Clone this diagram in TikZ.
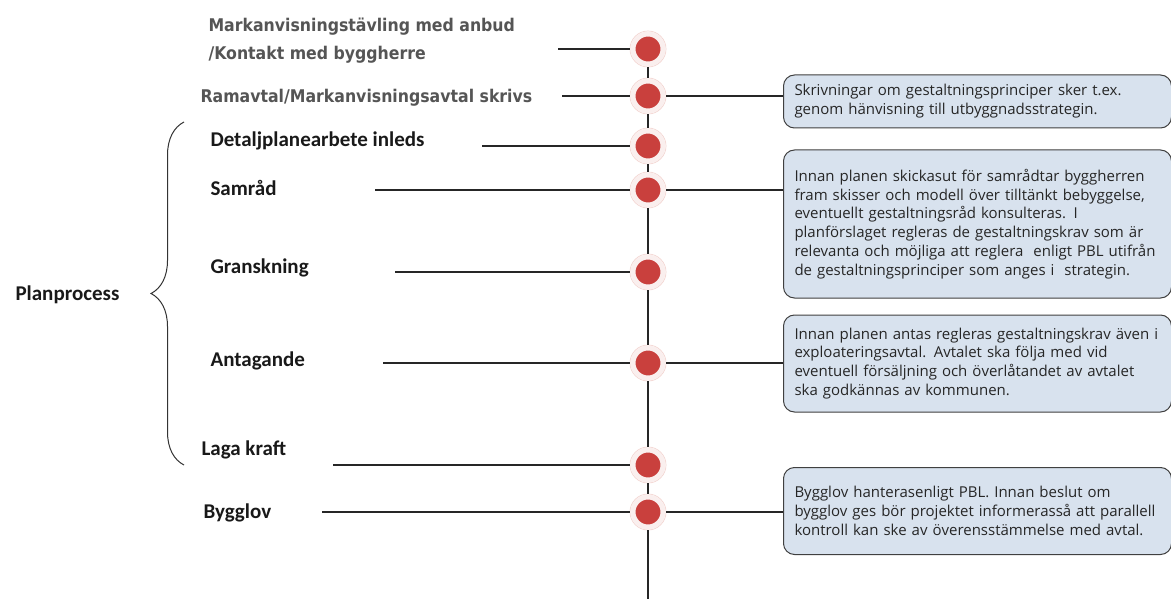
\documentclass[tikz,border=0pt]{standalone}
\usepackage{fontspec}
\setmainfont{Carlito}
\newfontfamily\condfont{DejaVu Sans Condensed}
\newfontfamily\notefont{Open Sans}
\usetikzlibrary{decorations.pathreplacing,shadows}

\begin{document}
\begin{tikzpicture}[x=1pt,y=-1pt]
\definecolor{tlRed}{HTML}{C9403D}
\definecolor{tlHalo}{HTML}{F2D2CE}
\definecolor{tlNote}{HTML}{D8E2EE}
\definecolor{tlNoteLine}{HTML}{404040}
\definecolor{tlGrey}{HTML}{555555}
\def\xaxis{648}
\def\xnote{783}
\tikzset{
	milestone/.style={circle,minimum size=30pt,inner sep=0pt,fill=tlRed,draw=tlHalo!35,line width=5pt,
		drop shadow={shadow xshift=1.5pt,shadow yshift=-1.5pt,fill=black!22}},
	halo/.style={circle,minimum size=36pt,inner sep=0pt,draw=tlHalo,line width=0.7pt},
	stage/.style={anchor=base west,font=\fontsize{21}{24}\selectfont\bfseries,text=black!90},
	prestage/.style={anchor=base west,font=\condfont\fontsize{17.5}{27}\selectfont\bfseries,text=tlGrey},
	note/.style={anchor=west,draw=tlNoteLine,line width=1pt,fill=tlNote,rounded corners=11pt,
		minimum width=388pt,text width=366pt,align=left,inner xsep=11pt,
		font=\notefont\fontsize{15}{18.8}\selectfont,text=black!85},
	link/.style={line width=1.1pt,black!85}
}
\useasboundingbox (0,0) rectangle (1171,599);

\foreach \id/\yy/\xs in {1/49/558,2/96/562,3/146/482,4/190/375,5/272/395,6/363/383,7/465/333,8/512/322} {
	\coordinate (s\id) at (\xs,\yy);
	\node[halo] (h\id) at (\xaxis,\yy) {};
	\node[milestone] (m\id) at (\xaxis,\yy) {};
	\draw[link] (s\id) -- (h\id.west);
}
\foreach \a/\b in {1/2,2/3,3/4,4/5,5/6,6/7,7/8}
	\draw[link] (h\a.south) -- (h\b.north);
\coordinate (tlEnd) at (\xaxis,599);
\draw[link] (h8.south) -- (tlEnd);

\node[prestage] (pMark) at (205,32) {Markanvisningstävling med anbud};
\node[prestage] (pKont) at (205,60) {/Kontakt med byggherre};
\node[prestage] (pRam) at (197,103) {Ramavtal/Markanvisningsavtal skrivs};
\node[stage] (sDet) at (207,147) {Detaljplanearbete inleds};
\node[stage] (sSam) at (207,196) {Samråd};
\node[stage] (sGra) at (207,273) {Granskning};
\node[stage] (sAnt) at (207,366) {Antagande};
\node[stage] (sLag) at (198,455) {Laga kraft};
\node[stage] (sByg) at (200,518) {Bygglov};
\node[stage] (sPlan) at (12,300) {Planprocess};

\draw[line width=1pt,black!80,decorate,decoration={brace,amplitude=33pt}]
	(184,465) -- (184,122);

\node[note,minimum height=53pt] (n1) at (\xnote,101.5) {Skrivningar om gestaltningsprinciper sker t.ex.\\genom hänvisning till utbyggnadsstrategin.};
\node[note,minimum height=148pt] (n2) at (\xnote,224) {Innan planen skickasut för samrådtar byggherren\\fram skisser och modell över tilltänkt bebyggelse,\\eventuellt gestaltningsråd konsulteras. I\\planförslaget regleras de gestaltningskrav som är\\relevanta och möjliga att reglera\ \ enligt PBL utifrån\\de gestaltningsprinciper som anges i\ \ strategin.};
\node[note,minimum height=97pt] (n3) at (\xnote,363.5) {Innan planen antas regleras gestaltningskrav även~i\\exploateringsavtal. Avtalet ska följa med vid\\eventuell försäljning och överlåtandet av avtalet\\ska godkännas av kommunen.};
\node[note,minimum height=87pt] (n4) at (\xnote,511) {Bygglov hanterasenligt PBL. Innan beslut om\\bygglov ges bör projektet informerasså att parallell\\kontroll kan ske av överensstämmelse med avtal.};

\draw[link] (h2.east) -- (h2.east -| n1.west);
\draw[link] (h4.east) -- (h4.east -| n2.west);
\draw[link] (h6.east) -- (h6.east -| n3.west);
\draw[link] (h8.east) -- (h8.east -| n4.west);
\end{tikzpicture}
\end{document}
